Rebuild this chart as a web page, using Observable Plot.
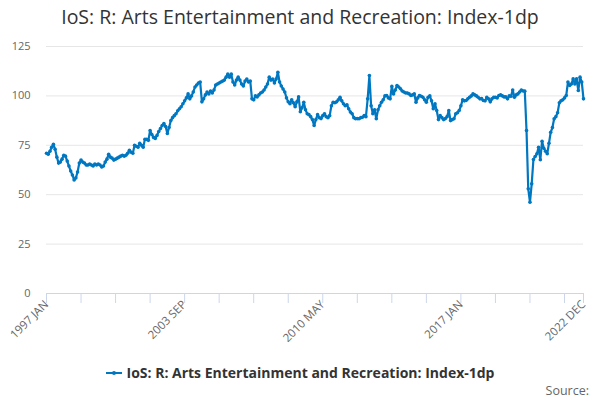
<!DOCTYPE html>
<html><head><meta charset="utf-8">
<script src="https://cdn.jsdelivr.net/npm/d3@7"></script>
<script src="https://cdn.jsdelivr.net/npm/@observablehq/plot@0.6"></script>
<style>
body{margin:0;background:#fff;font-family:"Open Sans",sans-serif}
#wrap{position:relative;width:600px;height:400px;overflow:hidden}
#chart{position:absolute;top:0;left:0}
#title{position:absolute;top:3px;left:0;width:600px;text-align:center;font-size:19.5px;color:#333}
#legend{position:absolute;top:363px;left:0;width:600px;text-align:center;font-size:14px;font-weight:bold;color:#333;white-space:nowrap}
#legend svg{vertical-align:middle;margin-right:5px;position:relative;top:-1px}
#source{position:absolute;top:382px;right:11px;font-size:12.5px;color:#666}
</style></head><body>
<div id="wrap">
<div id="chart"></div>
<div id="title">IoS: R: Arts Entertainment and Recreation: Index-1dp</div>
<div id="legend"><svg width="16" height="10"><line x1="0" y1="5" x2="16" y2="5" stroke="#0077c1" stroke-width="2"/><circle cx="8" cy="5" r="2" fill="#0077c1"/></svg>IoS: R: Arts Entertainment and Recreation: Index-1dp</div>
<div id="source">Source:</div>
</div>
<script>
const seriesName = "IoS: R: Arts Entertainment and Recreation: Index-1dp";
const v1997 = [71, 70.5, 72, 74, 75.5, 73, 69, 66, 66.5, 68, 70, 69.5];
const v1998 = [67, 64.5, 62, 60, 57.5, 58.5, 61.5, 66, 67.5, 66.5, 66, 65];
const v1999 = [65, 65.5, 65, 64.5, 65.5, 65, 65.5, 65, 64, 64.5, 66.5, 68];
const v2000 = [70.5, 69, 68.5, 67.5, 68, 68.5, 69, 69.5, 70, 69.5, 70, 71];
const v2001 = [72.5, 71.5, 71, 75, 74.5, 74, 76, 75, 74, 78, 78, 77.5];
const v2002 = [82.5, 80.5, 79, 78.5, 80, 82, 83.5, 85, 86, 84.5, 81, 84];
const v2003 = [87.5, 89, 90, 91, 92.5, 93.5, 94.5, 96, 97.5, 99, 101, 98.5];
const v2004 = [100, 102, 104.5, 105.5, 106.5, 107, 97, 98.5, 100.5, 102, 101, 102.5];
const v2005 = [101.5, 103, 105.5, 106, 106.5, 107, 107.5, 108, 109.5, 111, 109.5, 111];
const v2006 = [107, 105.5, 108, 109.5, 108, 106, 105, 107.5, 108.5, 107, 107.5, 98.5];
const v2007 = [98, 100, 99.5, 100.5, 101.5, 102, 103, 104.5, 106, 109.5, 108, 108.5];
const v2008 = [106.5, 108.5, 112, 107, 105, 103.5, 102, 99, 97, 96, 98, 96.5];
const v2009 = [94.5, 97, 99.5, 92, 94, 96.8, 93, 91, 90.5, 89.5, 88, 85];
const v2010 = [88, 90.5, 89, 88.5, 90, 91, 89.5, 89, 90, 95, 96.8, 96.5];
const v2011 = [97, 98, 99.3, 97.5, 96, 95, 95.5, 93.5, 91.8, 91, 89, 88.4];
const v2012 = [88.5, 88.4, 89, 89.2, 90, 89.5, 98.5, 110.3, 95, 91, 93, 88.4];
const v2013 = [93, 95, 96.8, 98, 100, 100.2, 99, 98.5, 104.8, 101, 103, 105.3];
const v2014 = [104.5, 103.6, 102.5, 102, 101.5, 101.5, 101, 100.2, 100.5, 101, 96.8, 99];
const v2015 = [100.2, 99.8, 99.3, 98, 96.8, 99.3, 100, 97.5, 93.5, 96, 92.6, 88];
const v2016 = [90, 89, 88, 88.5, 89.5, 92.6, 87.5, 88, 88.4, 91, 91.5, 92.6];
const v2017 = [95, 98, 97.5, 97.7, 98.5, 99.3, 100, 101, 100.5, 100, 99.3, 98.5];
const v2018 = [98.6, 97.7, 97.5, 99.3, 98.5, 97, 98.5, 99.3, 99.3, 99, 100.2, 100.5];
const v2019 = [100, 99.5, 99.5, 98.5, 100, 99.8, 103, 99.3, 100.5, 101, 102, 103];
const v2020 = [102.5, 102.4, 82.5, 53, 46.2, 55.5, 67.8, 69.3, 70.7, 74, 67.7, 77];
const v2021 = [73.5, 72, 70.7, 76, 81.6, 84, 88.4, 89.5, 91.5, 96.5, 97.5, 98];
const v2022 = [99, 100.2, 107, 105.3, 106, 108.6, 106, 108.6, 102.7, 109.5, 107, 98.5];

const monthNames = ["JAN","FEB","MAR","APR","MAY","JUN","JUL","AUG","SEP","OCT","NOV","DEC"];
const years = [1997,1998,1999,2000,2001,2002,2003,2004,2005,2006,2007,2008,2009,2010,2011,2012,2013,2014,2015,2016,2017,2018,2019,2020,2021,2022];
const yearValues = [v1997,v1998,v1999,v2000,v2001,v2002,v2003,v2004,v2005,v2006,v2007,v2008,v2009,v2010,v2011,v2012,v2013,v2014,v2015,v2016,v2017,v2018,v2019,v2020,v2021,v2022];
const tickLabels = ["1997 JAN","2003 SEP","2010 MAY","2017 JAN","2022 DEC"];
const yTicks = [0, 25, 50, 75, 100, 125];

const data = [];
years.forEach((yr, k) => yearValues[k].forEach((v, m) => data.push({cat: `${yr} ${monthNames[m]}`, value: v})));
const categories = data.map(d => d.cat);
const tickMarks = categories.filter((c, i) => i % 20 === 0 || i === categories.length - 1);
const color = "#0077c1";

const chart = Plot.plot({
  width: 600, height: 400,
  marginTop: 46, marginBottom: 107, marginLeft: 46, marginRight: 17,
  style: {fontFamily: "'Open Sans', sans-serif", fontSize: "11px", color: "#666", background: "transparent"},
  x: {type: "point", domain: categories, padding: 0},
  y: {domain: [0, 125]},
  marks: [
    Plot.gridY(yTicks, {stroke: "#e6e6e6", strokeOpacity: 1}),
    Plot.axisY(yTicks, {tickSize: 0, tickPadding: 16, label: null, fill: "#666"}),
    Plot.axisX(tickMarks, {tickSize: 10, stroke: "#ccd6eb", strokeOpacity: 1, tickFormat: () => "", label: null}),
    Plot.axisX(tickLabels, {tickSize: 0, tickPadding: 9, tickRotate: -45, label: null, fill: "#666", fontSize: 11.5}),
    Plot.ruleY([0], {stroke: "#ccd6eb"}),
    Plot.line(data, {x: "cat", y: "value", stroke: color, strokeWidth: 2.2}),
    Plot.dot(data, {x: "cat", y: "value", r: 1.8, fill: color})
  ]
});
document.getElementById("chart").appendChild(chart);
</script>
</body></html>
